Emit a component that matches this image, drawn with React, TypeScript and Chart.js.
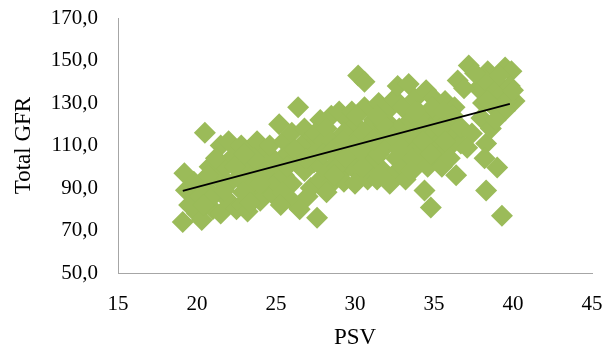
import React, { useEffect, useRef } from "react";
import { Chart, registerables } from "chart.js";

Chart.register(...registerables);

// PSV (x) values of each observation
const psv: number[] = [
  // 19-22
  19.1, 19.2, 19.3, 19.5, 19.8, 20.0, 20.3, 20.2, 20.5, 20.6, 20.8, 21.0, 21.0, 21.3, 21.5, 21.5, 21.8, 22.0, 22.0, 22.0, 21.2, 20.7, 22.3, 22.5, 20.4, 21.7,
  // 22-25
  22.8, 23.3, 23.8, 24.3, 24.8, 23.0, 23.5, 24.0, 24.5, 23.2, 23.8, 24.3, 22.8, 23.2, 24.0, 24.8, 25.0, 25.0, 22.6, 23.6, 22.9, 24.6, 23.4,
  22.4, 23.0, 24.2, 25.4, 24.0, 25.6,
  // 25-28
  25.2, 26.4, 25.5, 26.0, 26.8, 27.3, 25.8, 26.3, 27.0, 27.6, 25.5, 26.0, 26.8, 27.4, 25.4, 26.0, 26.5, 27.2, 27.8, 27.6, 25.7, 27.0, 25.3, 27.8, 26.6,
  26.2, 27.5, 26.9, 27.9, 28.0,
  // 28-31
  30.2, 30.6, 28.5, 29.0, 29.5, 30.0, 28.2, 28.5, 29.3, 30.3, 30.8, 31.0, 28.0, 28.8, 29.5, 30.0, 30.7, 28.3, 29.0, 29.8, 30.4, 31.0, 28.5, 29.3, 30.0, 30.8, 28.9, 29.8, 30.6, 31.2, 28.2,
  28.6, 29.2, 29.9, 30.5, 31.3, 30.1, 29.4, 28.7, 30.3,
  // 31-34
  31.5, 32.0, 32.5, 32.7, 33.4, 33.0, 33.8, 31.6, 32.2, 32.8, 33.5, 34.0, 31.5, 32.0, 32.6, 33.2, 33.8, 31.8, 32.4, 33.0, 33.6, 31.4, 32.2, 33.2, 34.0, 34.0, 31.2,
  31.8, 31.4, 32.4, 31.6, 32.8, 33.4, 33.6,
  // 34-37
  34.5, 35.0, 35.7, 36.3, 34.6, 35.3, 36.0, 35.9, 36.5, 36.7, 34.4, 35.0, 35.5, 34.8, 35.2, 35.8, 34.6, 33.6, 36.4, 34.4, 34.8, 35.5, 36.2,
  34.2, 34.9, 35.6, 35.4, 34.3, 35.7, 36.0, 34.8, 33.8,
  // 37-40
  37.2, 36.5, 38.4, 39.5, 39.9, 40.1, 39.5, 38.6, 37.8, 38.0, 38.1, 36.9, 38.3, 38.2, 39.0, 38.3, 39.3, 36.7, 37.4, 38.9, 39.3, 38.8, 39.8, 38.6, 37.1,
  38.2, 39.1, 37.6, 39.6, 40.0, 38.4, 39.2, 38.9,
];

// Total GFR (y) values, same order as psv
const gfr: number[] = [
  74, 97, 89, 82, 93, 78, 75, 86, 116, 90, 100, 80, 86, 95, 110, 78, 100, 112, 92, 84, 104, 96, 105, 80, 82, 89,
  110, 108, 112, 106, 104, 100, 96, 100, 93, 90, 86, 88, 82, 79, 84, 87, 98, 92, 95, 104, 88, 110, 83,
  100, 106, 97, 104, 92, 90,
  120, 128, 112, 116, 118, 114, 106, 102, 108, 110, 96, 92, 98, 102, 88, 84, 80, 90, 94, 76, 100, 86, 82, 122, 110,
  108, 116, 104, 100, 112,
  143, 140, 124, 126, 122, 120, 118, 112, 116, 114, 118, 110, 106, 104, 108, 104, 106, 98, 96, 100, 96, 100, 92, 93, 92, 94, 100, 126, 128, 122, 88,
  108, 112, 110, 100, 104, 124, 104, 96, 108,
  130, 126, 132, 138, 139, 128, 132, 116, 120, 118, 122, 126, 106, 110, 104, 112, 108, 98, 96, 100, 98, 94, 92, 94, 116, 102, 113,
  120, 124, 114, 96, 108, 116, 104,
  136, 132, 131, 128, 124, 122, 120, 117, 115.6, 111, 107.6, 111, 114, 118, 104, 108, 100, 98, 96, 88.8, 80.8, 100, 124,
  120, 128, 126, 118, 112, 112, 104, 106, 126,
  147.6, 140.6, 145, 146.7, 145, 131, 126.5, 136, 137, 123, 130, 137, 111, 104, 99.7, 88.8, 77, 118.5, 115.6, 140, 134, 128, 138, 118, 109,
  141, 143, 144, 131, 136, 131, 127, 122,
];

// Linear trend line end points
const trendX: number[] = [19.1, 39.8];
const trendY: number[] = [88.7, 129.6];

const xTicks: number[] = [15, 20, 25, 30, 35, 40, 45];
const yTicks: number[] = [50, 70, 90, 110, 130, 150, 170];

export default function App() {
  const ref = useRef<HTMLCanvasElement | null>(null);

  useEffect(() => {
    document.body.style.margin = "0";
    if (!ref.current) return;
    const points = psv.map((x, i) => ({ x, y: gfr[i] }));
    const trend = trendX.map((x, i) => ({ x, y: trendY[i] }));
    const font = "'Liberation Serif', 'Times New Roman', serif";
    const chart = new Chart(ref.current, {
      type: "scatter",
      data: {
        datasets: [
          {
            type: "line",
            label: "Trend",
            data: trend,
            borderColor: "#000000",
            borderWidth: 1.8,
            pointRadius: 0,
            fill: false,
          } as any,
          {
            label: "GFR",
            data: points,
            pointStyle: "rectRot",
            pointRadius: 11,
            pointHoverRadius: 11,
            backgroundColor: "#9BBB59",
            borderColor: "#9BBB59",
            borderWidth: 0,
          },
        ],
      },
      options: {
        animation: false,
        responsive: false,
        maintainAspectRatio: false,
        events: [],
        layout: { padding: { top: 18, right: 21, bottom: 0, left: 0 } },
        plugins: { legend: { display: false }, tooltip: { enabled: false } },
        scales: {
          x: {
            type: "linear",
            min: xTicks[0],
            max: xTicks[xTicks.length - 1],
            afterBuildTicks: (s: any) => {
              s.ticks = xTicks.map((v) => ({ value: v }));
            },
            afterFit: (s: any) => {
              s.height = 76;
            },
            grid: { display: false, drawTicks: true, tickLength: 17 },
            border: { display: true, color: "#A6A6A6", width: 1 },
            ticks: {
              color: "#000",
              padding: 2,
              font: { family: font, size: 21 },
              maxRotation: 0,
            },
            title: {
              display: true,
              text: "PSV",
              color: "#000",
              font: { family: font, size: 23, lineHeight: 1 },
              padding: { top: 0, bottom: 0 },
            },
          },
          y: {
            type: "linear",
            min: yTicks[0],
            max: yTicks[yTicks.length - 1],
            afterBuildTicks: (s: any) => {
              s.ticks = yTicks.map((v) => ({ value: v }));
            },
            afterFit: (s: any) => {
              s.width = 118;
            },
            grid: { display: false, drawTicks: true, tickLength: 18 },
            border: { display: true, color: "#A6A6A6", width: 1 },
            ticks: {
              color: "#000",
              padding: 2,
              font: { family: font, size: 21 },
              callback: (v: any) => Number(v).toFixed(1).replace(".", ","),
            },
            title: {
              display: true,
              text: "Total GFR",
              color: "#000",
              font: { family: font, size: 23, lineHeight: 1 },
              padding: { top: 12, bottom: 0 },
            },
          },
        },
      },
    });
    return () => chart.destroy();
  }, []);

  return (
    <div style={{ width: 613, height: 349, position: "relative", background: "#fff" }}>
      <canvas ref={ref} width={613} height={349} style={{ width: 613, height: 349, display: "block" }} />
    </div>
  );
}
